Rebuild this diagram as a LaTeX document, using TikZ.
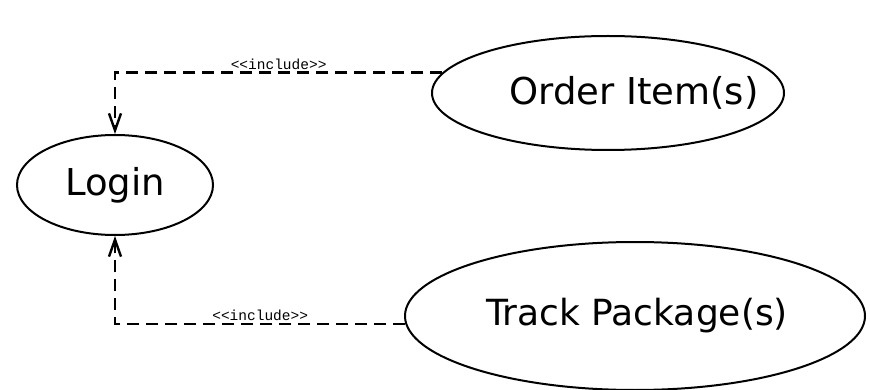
\documentclass[tikz,border=0pt]{standalone}
\usepackage{fontspec}
\setmainfont{DejaVu Sans}
\newfontfamily\stereofont{Liberation Mono}
\usetikzlibrary{shapes.geometric,arrows.meta}

\tikzset{
    usecase/.style={draw, ellipse, line width=2pt, inner sep=0pt,
        font=\fontsize{37}{42}\selectfont},
    incl/.style={dashed, dash pattern=on 12pt off 7pt, line width=2.8pt,
        -{Straight Barb[length=17pt,width=12pt,line width=2.4pt]}},
    stereo/.style={font=\stereofont\fontsize{14.5}{16}\selectfont,
        above, inner sep=2pt}
}

\begin{document}
\begin{tikzpicture}[x=1pt,y=-1pt]

    \useasboundingbox (0,0) rectangle (870,390);

    \node[usecase,
        minimum width=196pt,
        minimum height=100pt
    ] (login) at (115,185){Login};
    \node[usecase,
        minimum width=352pt,
        minimum height=114pt
    ] (order) at (608,93){\hspace*{52pt}\makebox[0pt]{Order Item(s)}};
    \node[usecase,
        minimum width=460pt,
        minimum height=148pt
    ] (track) at (635,316){\hspace*{4pt}\makebox[0pt]{\fontsize{36}{42}\selectfont Track Package(s)}};

    \draw[incl] (order.173) -| (login.north)
        node[stereo, pos=0.25]{<<include>>};
    \draw[incl] (track.182) -| (login.south)
        node[stereo, pos=0.25]{<<include>>};

\end{tikzpicture}
\end{document}
